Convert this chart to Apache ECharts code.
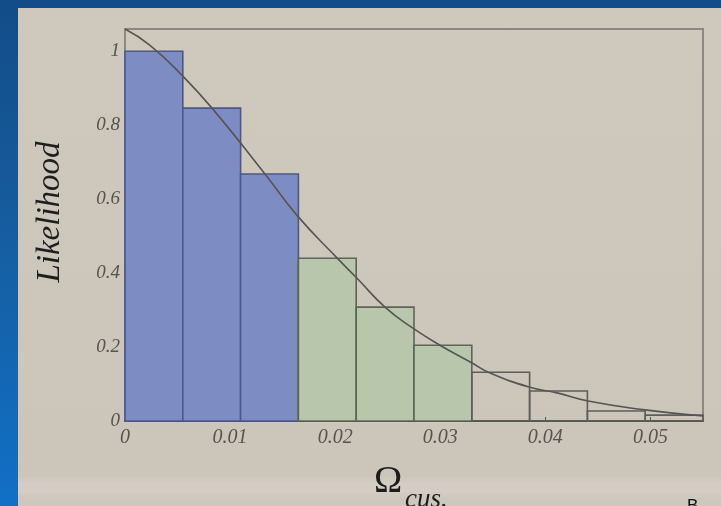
<!DOCTYPE html>
<html>
<head>
<meta charset="utf-8">
<script src="https://cdn.jsdelivr.net/npm/echarts@6/dist/echarts.min.js"></script>
<style>
  html, body { margin: 0; padding: 0; width: 721px; height: 506px; overflow: hidden; }
  body { background: linear-gradient(180deg, #134c88 0%, #165d9f 45%, #1170c6 100%); position: relative; }
  #panel { position: absolute; left: 18px; top: 8px; right: 0; bottom: 0;
    background: linear-gradient(180deg, #cfc8bc 0%, #ccc5ba 94%, #d3cdc6 95.5%, #d6cdc4 97%, #cdc7bd 98.5%); }
  #chart { position: absolute; left: 0; top: 0; width: 721px; height: 506px; }
</style>
</head>
<body>
<div id="panel"></div>
<div id="chart"></div>
<script>
// Histogram bins of the likelihood: lower edge, upper edge, height, shading group
const binLo = [0, 0.0055, 0.011, 0.0165, 0.022, 0.0275, 0.033, 0.0385, 0.044, 0.0495];
const binHi = [0.0055, 0.011, 0.0165, 0.022, 0.0275, 0.033, 0.0385, 0.044, 0.0495, 0.055];
const binHeight = [1.0, 0.846, 0.668, 0.44, 0.308, 0.205, 0.132, 0.081, 0.027, 0.016];
const binGroup = [0, 0, 0, 1, 1, 1, 2, 2, 2, 2];

// Fitted likelihood curve
const curveX = [0, 0.00238, 0.00542, 0.00828, 0.01332, 0.01637, 0.02017, 0.02208, 0.02474,
  0.0274, 0.02997, 0.03302, 0.03473, 0.03844, 0.04111, 0.04406, 0.04948, 0.055];
const curveY = [1.06, 1.016, 0.935, 0.846, 0.668, 0.556, 0.441, 0.386, 0.308,
  0.251, 0.205, 0.157, 0.13, 0.092, 0.076, 0.054, 0.03, 0.0135];

// Axis tick labels
const xTickLabels = ['0', '0.01', '0.02', '0.03', '0.04', '0.05'];
const yTickLabels = ['0', '0.2', '0.4', '0.6', '0.8', '1'];

const groupFill = ['#7e8cc4', '#b8c6ab', 'rgba(0,0,0,0)'];
const groupStroke = ['#4b5889', '#5b6656', '#5e5d5a'];

const serif = '"Liberation Serif", "DejaVu Serif", serif';

const chart = echarts.init(document.getElementById('chart'), null, { renderer: 'canvas' });

const binData = binLo.map((lo, i) => [lo, binHi[i], binHeight[i], binGroup[i]]);
const curveData = curveX.map((x, i) => [x, curveY[i]]);

function tickLabel(labels, step) {
  return function (v) {
    const i = Math.round(v / step);
    return Math.abs(v - i * step) < 1e-7 && labels[i] !== undefined ? labels[i] : '';
  };
}

chart.setOption({
  animation: false,
  backgroundColor: 'transparent',
  grid: {
    left: 125, right: 18, top: 29, bottom: 85,
    show: true, borderColor: '#8b8782', borderWidth: 2, backgroundColor: 'transparent'
  },
  xAxis: {
    type: 'value', min: 0, max: 0.055, interval: 0.01,
    axisLine: { show: true, lineStyle: { color: '#4e4e4c', width: 2 } },
    axisTick: { show: true, inside: true, length: 4, lineStyle: { color: '#5a5a58' } },
    splitLine: { show: false },
    axisLabel: {
      formatter: tickLabel(xTickLabels, 0.01), margin: 7,
      fontFamily: serif, fontStyle: 'italic', fontSize: 20, color: '#555452',
      showMaxLabel: false
    }
  },
  yAxis: {
    type: 'value', min: 0, max: 1.06, interval: 0.2,
    axisLine: { show: false },
    axisTick: { show: true, inside: true, length: 4, lineStyle: { color: '#6a6966' } },
    splitLine: { show: false },
    axisLabel: {
      formatter: tickLabel(yTickLabels, 0.2), margin: 5,
      fontFamily: serif, fontStyle: 'italic', fontSize: 19, color: '#555452',
      showMaxLabel: false
    }
  },
  series: [
    {
      type: 'custom',
      data: binData,
      encode: { x: [0, 1], y: 2 },
      z: 2,
      renderItem: function (params, api) {
        const lo = api.value(0), hi = api.value(1), h = api.value(2), g = api.value(3);
        const p0 = api.coord([lo, 0]);
        const p1 = api.coord([hi, h]);
        return {
          type: 'rect',
          shape: { x: p0[0], y: p1[1], width: p1[0] - p0[0], height: p0[1] - p1[1] },
          style: { fill: groupFill[g], stroke: groupStroke[g], lineWidth: 1.6 }
        };
      }
    },
    {
      type: 'line',
      data: curveData,
      smooth: 0.5,
      showSymbol: false,
      z: 3,
      lineStyle: { color: '#555553', width: 1.6 }
    }
  ],
  graphic: [
    {
      type: 'text', x: 50, y: 212, rotation: Math.PI / 2,
      style: { text: 'Likelihood', fontFamily: serif, fontStyle: 'italic', fontSize: 33,
        fill: '#1e1e1e', textAlign: 'center', textVerticalAlign: 'middle' }
    },
    {
      type: 'text', left: 374, top: 463,
      style: { text: 'Ω', fontFamily: serif, fontSize: 38, fill: '#1c1c1c' }
    },
    {
      type: 'text', left: 405, top: 486,
      style: { text: 'cus.', fontFamily: serif, fontStyle: 'italic', fontSize: 27, fill: '#1c1c1c' }
    },
    {
      type: 'text', left: 687, top: 498,
      style: { text: 'B', fontFamily: '"Liberation Sans", sans-serif', fontSize: 17, fill: '#111' }
    }
  ]
});
</script>
</body>
</html>
